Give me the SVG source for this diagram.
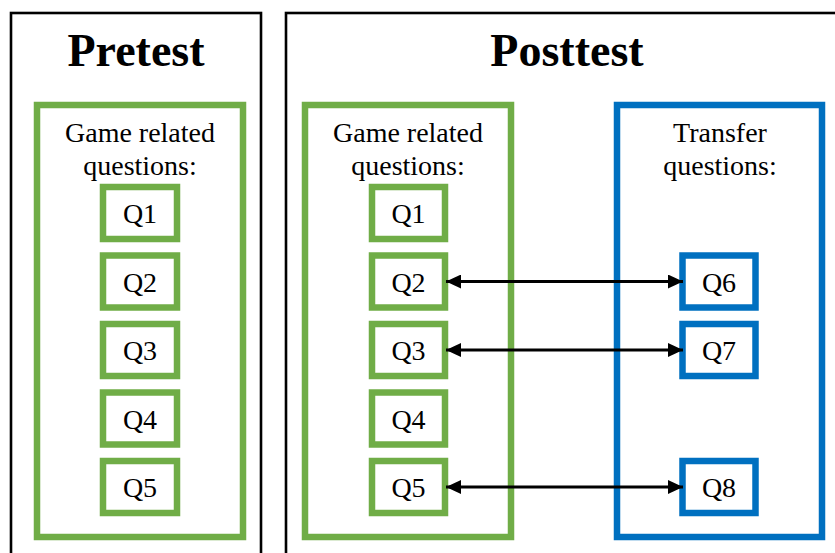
<svg xmlns="http://www.w3.org/2000/svg" width="835" height="553" viewBox="0 0 835 553">
<defs>
<style>
.outer{fill:none;stroke:#000;stroke-width:2.6}
.g{fill:none;stroke:#70AD47;stroke-width:6.5}
.b{fill:none;stroke:#0070C0;stroke-width:6.5}
.qg{fill:#fff;stroke:#70AD47;stroke-width:6.5}
.qb{fill:#fff;stroke:#0070C0;stroke-width:6.5}
.title{font-family:"Liberation Serif","Times New Roman",serif;font-weight:bold;font-size:46px;text-anchor:middle;fill:#000}
.lbl{font-family:"Liberation Serif","Times New Roman",serif;font-size:28px;text-anchor:middle;fill:#000}
.q{font-family:"Liberation Serif","Times New Roman",serif;font-size:28px;text-anchor:middle;fill:#000}
.conn{stroke:#000;stroke-width:3;fill:none;marker-start:url(#ah);marker-end:url(#ah)}
</style>
<marker id="ah" viewBox="0 0 15 14" refX="15" refY="7" markerWidth="15" markerHeight="14" markerUnits="userSpaceOnUse" orient="auto-start-reverse">
<path d="M0,0 L15,7 L0,14 Z" fill="#000"/>
</marker>
</defs>
<rect width="835" height="553" fill="#fff"/>

<g id="pretest">
<rect class="outer" x="11" y="13" width="250" height="560"/>
<text class="title" x="136" y="66">Pretest</text>
</g>
<g id="posttest">
<rect class="outer" x="286" y="13" width="580" height="560"/>
<text class="title" x="567" y="66">Posttest</text>
</g>

<g id="pre-game">
<rect class="g" x="37" y="105" width="206" height="432"/>
<text class="lbl" x="140" y="142">Game related</text>
<text class="lbl" x="140" y="175">questions:</text>
</g>
<g id="post-game">
<rect class="g" x="305" y="105" width="206" height="432"/>
<text class="lbl" x="408" y="142">Game related</text>
<text class="lbl" x="408" y="175">questions:</text>
</g>
<g id="post-transfer">
<rect class="b" x="617" y="105" width="205" height="432"/>
<text class="lbl" x="720" y="142">Transfer</text>
<text class="lbl" x="720" y="175">questions:</text>
</g>

<g id="pre-q1"><rect class="qg" x="103" y="187" width="74" height="52"/><text class="q" x="140" y="223">Q1</text></g>
<g id="pre-q2"><rect class="qg" x="103" y="255.5" width="74" height="52"/><text class="q" x="140" y="291.5">Q2</text></g>
<g id="pre-q3"><rect class="qg" x="103" y="324" width="74" height="52"/><text class="q" x="140" y="360">Q3</text></g>
<g id="pre-q4"><rect class="qg" x="103" y="392.5" width="74" height="52"/><text class="q" x="140" y="428.5">Q4</text></g>
<g id="pre-q5"><rect class="qg" x="103" y="461" width="74" height="52"/><text class="q" x="140" y="497">Q5</text></g>

<g id="post-q1"><rect class="qg" x="372" y="187" width="73" height="52"/><text class="q" x="408.5" y="223">Q1</text></g>
<g id="post-q2"><rect class="qg" x="372" y="255.5" width="73" height="52"/><text class="q" x="408.5" y="291.5">Q2</text></g>
<g id="post-q3"><rect class="qg" x="372" y="324" width="73" height="52"/><text class="q" x="408.5" y="360">Q3</text></g>
<g id="post-q4"><rect class="qg" x="372" y="392.5" width="73" height="52"/><text class="q" x="408.5" y="428.5">Q4</text></g>
<g id="post-q5"><rect class="qg" x="372" y="461" width="73" height="52"/><text class="q" x="408.5" y="497">Q5</text></g>

<g id="post-q6"><rect class="qb" x="682.5" y="255.5" width="73" height="52"/><text class="q" x="719" y="291.5">Q6</text></g>
<g id="post-q7"><rect class="qb" x="682.5" y="324" width="73" height="52"/><text class="q" x="719" y="360">Q7</text></g>
<g id="post-q8"><rect class="qb" x="682.5" y="461" width="73" height="52"/><text class="q" x="719" y="497">Q8</text></g>

<g id="connectors">
<line class="conn" x1="446" y1="281.5" x2="683" y2="281.5"/>
<line class="conn" x1="446" y1="350" x2="683" y2="350"/>
<line class="conn" x1="446" y1="487" x2="683" y2="487"/>
</g>
</svg>
